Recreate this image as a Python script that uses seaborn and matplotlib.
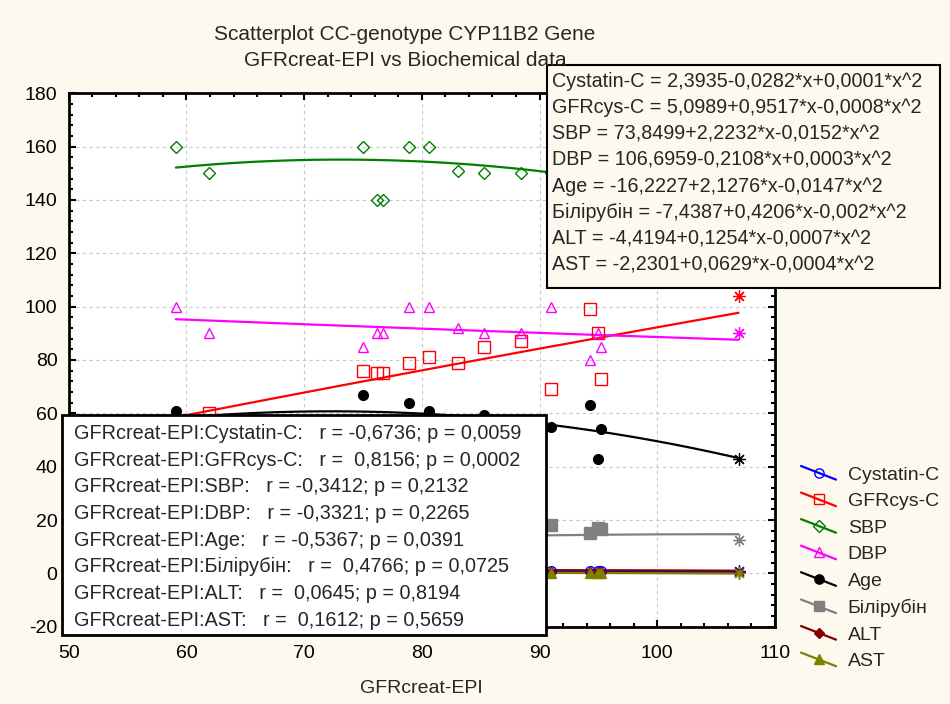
import numpy as np
import pandas as pd
import matplotlib
matplotlib.use("Agg")
import matplotlib.pyplot as plt
import seaborn as sns
from matplotlib.lines import Line2D
from matplotlib.patches import Rectangle
from matplotlib.legend_handler import HandlerLine2D

# ---------------- data ----------------
gfr = [59.1, 61.9, 75.0, 76.2, 76.7, 78.9, 80.6, 83.1, 85.3, 88.4, 91.0, 94.3, 95.0, 95.2, 106.9]
cystatin = [1.1, 1.0, 0.9, 0.9, 1.0, 0.8, 0.9, 0.8, 0.9, 0.7, 0.8, 0.8, 0.9, 0.8, 0.7]
gfrcys = [55, 60, 76, 75, 75, 79, 81, 79, 85, 87, 69, 99, 90, 73, 104]
sbp = [160, 150, 160, 140, 140, 160, 160, 151, 150, 150, 150, 140, 150, 140, 140]
dbp = [100, 90, 85, 90, 90, 100, 100, 92, 90, 90, 100, 80, 90, 85, 90]
age = [61, 55, 67, 50, 57, 64, 61, 48, 59.5, 52, 55, 63, 43, 54, 43]
bilirubin = [10, 12, 14, 11, 16, 13, 15, 12, 17, 14, 18, 15, 17, 16.5, 12.5]
alt = [0.6, 0.5, 0.6, 0.5, 0.5, 0.6, 0.5, 0.6, 0.5, 0.6, 0.5, 0.5, 0.6, 0.5, 0.6]
ast = [0.2, 0.3, 0.2, 0.2, 0.3, 0.2, 0.2, 0.3, 0.2, 0.2, 0.3, 0.2, 0.2, 0.3, 0.1]

series_names = ["Cystatin-C", "GFRcys-C", "SBP", "DBP", "Age", "Білірубін", "ALT", "AST"]
series_values = [cystatin, gfrcys, sbp, dbp, age, bilirubin, alt, ast]
# quadratic fit coefficients (b0, b1, b2)
fit_coefs = [
    (2.3935, -0.0282, 0.0001),
    (5.0989, 0.9517, -0.0008),
    (73.8499, 2.2232, -0.0152),
    (106.6959, -0.2108, 0.0003),
    (-16.2227, 2.1276, -0.0147),
    (-7.4387, 0.4206, -0.002),
    (-4.4194, 0.1254, -0.0007),
    (-2.2301, 0.0629, -0.0004),
]
equations = [
    "Cystatin-C = 2,3935-0,0282*x+0,0001*x^2",
    "GFRcys-C = 5,0989+0,9517*x-0,0008*x^2",
    "SBP = 73,8499+2,2232*x-0,0152*x^2",
    "DBP = 106,6959-0,2108*x+0,0003*x^2",
    "Age = -16,2227+2,1276*x-0,0147*x^2",
    "Білірубін = -7,4387+0,4206*x-0,002*x^2",
    "ALT = -4,4194+0,1254*x-0,0007*x^2",
    "AST = -2,2301+0,0629*x-0,0004*x^2",
]
stats = [
    "GFRcreat-EPI:Cystatin-C:   r = -0,6736; p = 0,0059",
    "GFRcreat-EPI:GFRcys-C:   r =  0,8156; p = 0,0002",
    "GFRcreat-EPI:SBP:   r = -0,3412; p = 0,2132",
    "GFRcreat-EPI:DBP:   r = -0,3321; p = 0,2265",
    "GFRcreat-EPI:Age:   r = -0,5367; p = 0,0391",
    "GFRcreat-EPI:Білірубін:   r =  0,4766; p = 0,0725",
    "GFRcreat-EPI:ALT:   r =  0,0645; p = 0,8194",
    "GFRcreat-EPI:AST:   r =  0,1612; p = 0,5659",
]
title_lines = ["Scatterplot CC-genotype CYP11B2 Gene", "GFRcreat-EPI vs Biochemical data"]

# ---------------- styles ----------------
colors = ["#0000FF", "#FF0000", "#008000", "#FF00FF", "#000000", "#808080", "#800000", "#808000"]
markers = ["o", "s", "D", "^", "o", "s", "D", "^"]
filled = [False, False, False, False, True, True, True, True]
msizes = [7, 8, 6, 7.5, 7, 8, 5, 7.5]

BG = "#FDF9EE"
sns.set_style("white")
plt.rcParams["font.family"] = ["Liberation Sans", "DejaVu Sans"]
plt.rcParams["axes.unicode_minus"] = False

fig = plt.figure(figsize=(9.5, 7.04), dpi=100, facecolor=BG)
W, H = 950, 704
ax = fig.add_axes([68.7 / W, 1 - 626.7 / H, (775 - 68.7) / W, (626.7 - 93.3) / H])
ax.set_facecolor("white")

xs = np.array(gfr)
xfit = np.linspace(xs.min(), xs.max(), 200)
long_pts = []
for name, vals in zip(series_names, series_values):
    for xv, yv in zip(gfr, vals):
        long_pts.append({"x": xv, "y": yv, "series": name})
pts = pd.DataFrame(long_pts)

handles = []
for i, name in enumerate(series_names):
    b0, b1, b2 = fit_coefs[i]
    fd = pd.DataFrame({"x": xfit, "y": b0 + b1 * xfit + b2 * xfit ** 2})
    sns.lineplot(data=fd, x="x", y="y", ax=ax, color=colors[i], lw=1.6, zorder=2 + i * 0.01)
    sub = pts[pts.series == name]
    main = sub.iloc[:-1]
    last = sub.iloc[-1:]
    fc = colors[i] if filled[i] else "none"
    ax.plot(main.x, main.y, ls="none", marker=markers[i], ms=msizes[i],
            mfc=fc, mec=colors[i], mew=1.0, zorder=3)
    ax.plot(last.x, last.y, ls="none", marker=(8, 2, 0), ms=9, mec=colors[i], mew=0.9, zorder=3)
    handles.append(Line2D([], [], color=colors[i], lw=1.6, marker=markers[i],
                          ms=msizes[i] * 0.95, mfc=fc, mec=colors[i], mew=1.0, label=name))

ax.set_xlim(50, 110)
ax.set_ylim(-20, 180)
ax.set_xticks(np.arange(50, 111, 10))
ax.set_yticks(np.arange(-20, 181, 20))
ax.set_xticks(np.arange(50, 111, 2), minor=True)
ax.set_yticks(np.arange(-20, 181, 4), minor=True)
ax.tick_params(which="both", direction="in", top=True, right=True, bottom=True, left=True,
               colors="black", labelsize=14, width=1.5)
ax.tick_params(which="major", length=5)
ax.tick_params(axis="x", which="major", pad=13)
ax.tick_params(axis="y", which="major", pad=8)
ax.tick_params(which="minor", length=3)
ax.grid(True, which="major", ls=(0, (3, 3)), color="#C8C8C8", lw=0.8)
ax.set_axisbelow(True)
for sp in ax.spines.values():
    sp.set_linewidth(2)
    sp.set_color("black")
ax.set_xlabel("GFRcreat-EPI", fontsize=14, labelpad=13)
ax.set_ylabel("")


class DiagHandler(HandlerLine2D):
    def create_artists(self, legend, orig_handle, xdescent, ydescent, width, height, fontsize, trans):
        x0 = -xdescent
        x1 = -xdescent + width
        yc = -ydescent + height / 2
        dy = height * 0.5
        ln = Line2D([x0, x1], [yc + dy, yc - dy], color=orig_handle.get_color(), lw=1.6)
        mk = Line2D([(x0 + x1) / 2], [yc], ls="none", marker=orig_handle.get_marker(),
                    ms=orig_handle.get_markersize(), mfc=orig_handle.get_markerfacecolor(),
                    mec=orig_handle.get_markeredgecolor(), mew=1.0)
        ln.set_transform(trans)
        mk.set_transform(trans)
        return [ln, mk]


fig.legend(handles=handles, loc="upper left", bbox_to_anchor=(801 / W, 1 - 466 / H),
           frameon=False, fontsize=14, handlelength=1.8, handletextpad=0.6,
           labelspacing=0.46, borderaxespad=0, borderpad=0,
           handler_map={Line2D: DiagHandler()})

# equation box
fig.add_artist(Rectangle((547 / W, 1 - 288 / H), (940 - 547) / W, (288 - 65) / H,
                         transform=fig.transFigure, fc=BG, ec="black", lw=1.5, zorder=10))
for k, t in enumerate(equations):
    fig.text(552 / W, 1 - (81.7 + 26.2 * k) / H, t, fontsize=14.2, va="center", ha="left", zorder=11)

# stats box
fig.add_artist(Rectangle((62 / W, 1 - 635 / H), (546 - 62) / W, (635 - 415) / H,
                         transform=fig.transFigure, fc="white", ec="black", lw=2, zorder=10))
for k, t in enumerate(stats):
    fig.text(74 / W, 1 - (433.3 + 26.7 * k) / H, t, fontsize=14.3, va="center", ha="left", zorder=11)

# title
for k, t in enumerate(title_lines):
    fig.text(405 / W, 1 - (35 + 25 * k) / H, t, fontsize=15, ha="center", va="center",
             family=["Liberation Sans Narrow", "Liberation Sans", "DejaVu Sans"], zorder=12)

fig.savefig("out.png", dpi=100, facecolor=BG)
